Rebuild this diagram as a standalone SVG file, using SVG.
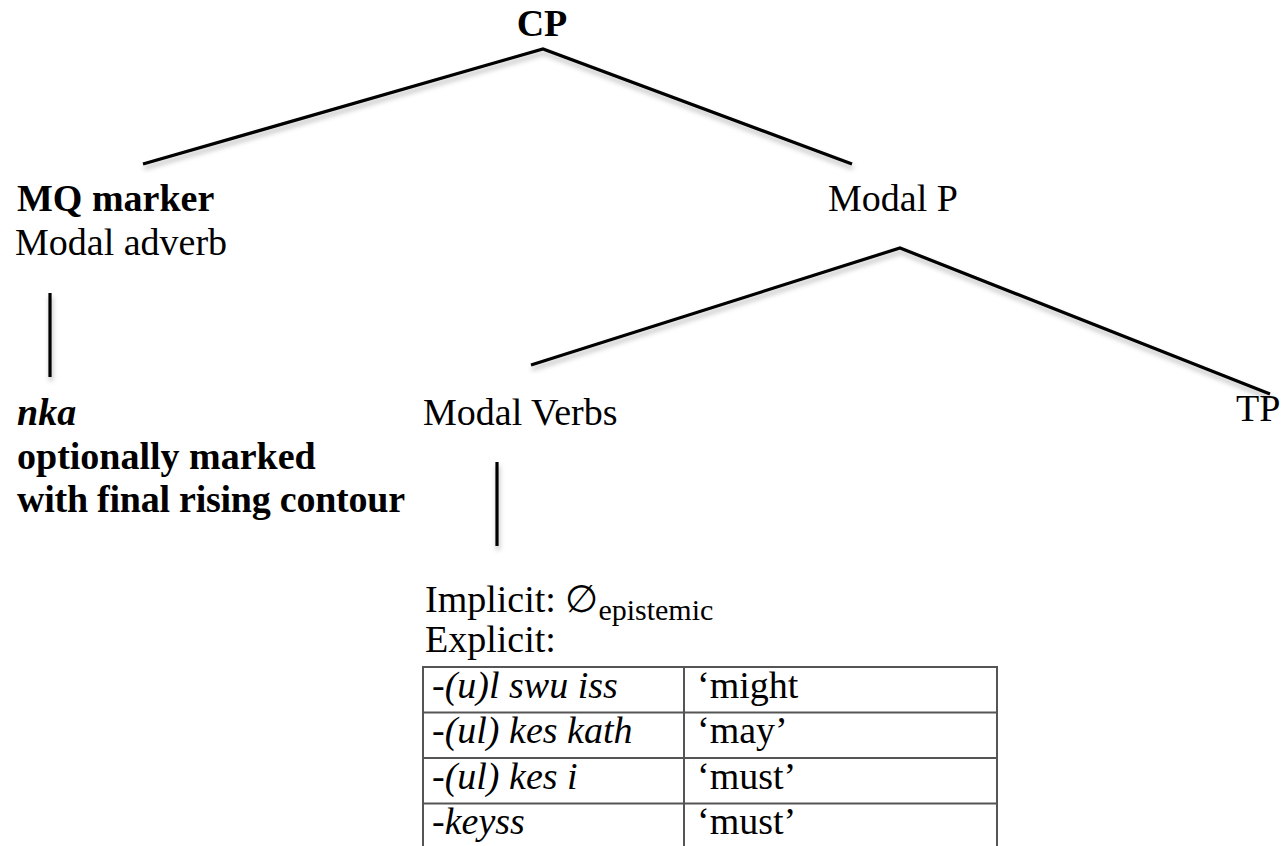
<svg xmlns="http://www.w3.org/2000/svg" width="1281" height="846" viewBox="0 0 1281 846">
<defs>
<style>
text{font-family:"Liberation Serif","Times New Roman",serif;font-size:38px;fill:#000}
.b{font-weight:bold}
.i{font-style:italic}
.edge{stroke:#000;stroke-width:3.2;fill:none;stroke-linecap:butt;stroke-linejoin:miter}
.grid{stroke:#555;stroke-width:2;fill:none}
</style>
<filter id="sh" x="-10%" y="-10%" width="120%" height="140%">
<feDropShadow dx="1" dy="4" stdDeviation="2.5" flood-color="#000" flood-opacity="0.28"/>
</filter>
</defs>
<rect width="1281" height="846" fill="#fff"/>
<g id="connectors" filter="url(#sh)">
<polyline class="edge" points="143,164 543,49 852,164"/>
<polyline class="edge" points="531,365 900,248 1270,394"/>
<line class="edge" x1="50" y1="293" x2="50" y2="377"/>
<line class="edge" x1="497" y1="462" x2="497" y2="546"/>
</g>
<g id="node-cp"><text class="b" x="542" y="36" text-anchor="middle">CP</text></g>
<g id="node-mq"><text class="b" x="17" y="211">MQ marker</text><text x="15" y="255">Modal adverb</text></g>
<g id="node-modalp"><text x="893" y="211" text-anchor="middle">Modal P</text></g>
<g id="node-nka"><text class="b i" x="17" y="425">nka</text><text class="b" x="17" y="469">optionally marked</text><text class="b" x="17" y="512" textLength="388">with final rising contour</text></g>
<g id="node-modalverbs"><text x="423" y="425">Modal Verbs</text></g>
<g id="node-tp"><text x="1236" y="421" font-size="37">TP</text></g>
<g id="node-table">
<text x="425" y="612">Implicit: ∅<tspan font-size="30" dy="8">epistemic</tspan></text>
<text x="425" y="652">Explicit:</text>
<rect class="grid" x="423" y="667" width="574" height="190"/>
<line class="grid" x1="684" y1="667" x2="684" y2="857"/>
<line class="grid" x1="423" y1="712.5" x2="997" y2="712.5"/>
<line class="grid" x1="423" y1="758" x2="997" y2="758"/>
<line class="grid" x1="423" y1="803.5" x2="997" y2="803.5"/>
<text class="i" x="432" y="698">-(u)l swu iss</text>
<text class="i" x="432" y="743">-(ul) kes kath</text>
<text class="i" x="432" y="789">-(ul) kes i</text>
<text class="i" x="432" y="834">-keyss</text>
<text x="697" y="698">‘might</text>
<text x="697" y="743">‘may’</text>
<text x="697" y="789">‘must’</text>
<text x="697" y="834">‘must’</text>
</g>
</svg>
